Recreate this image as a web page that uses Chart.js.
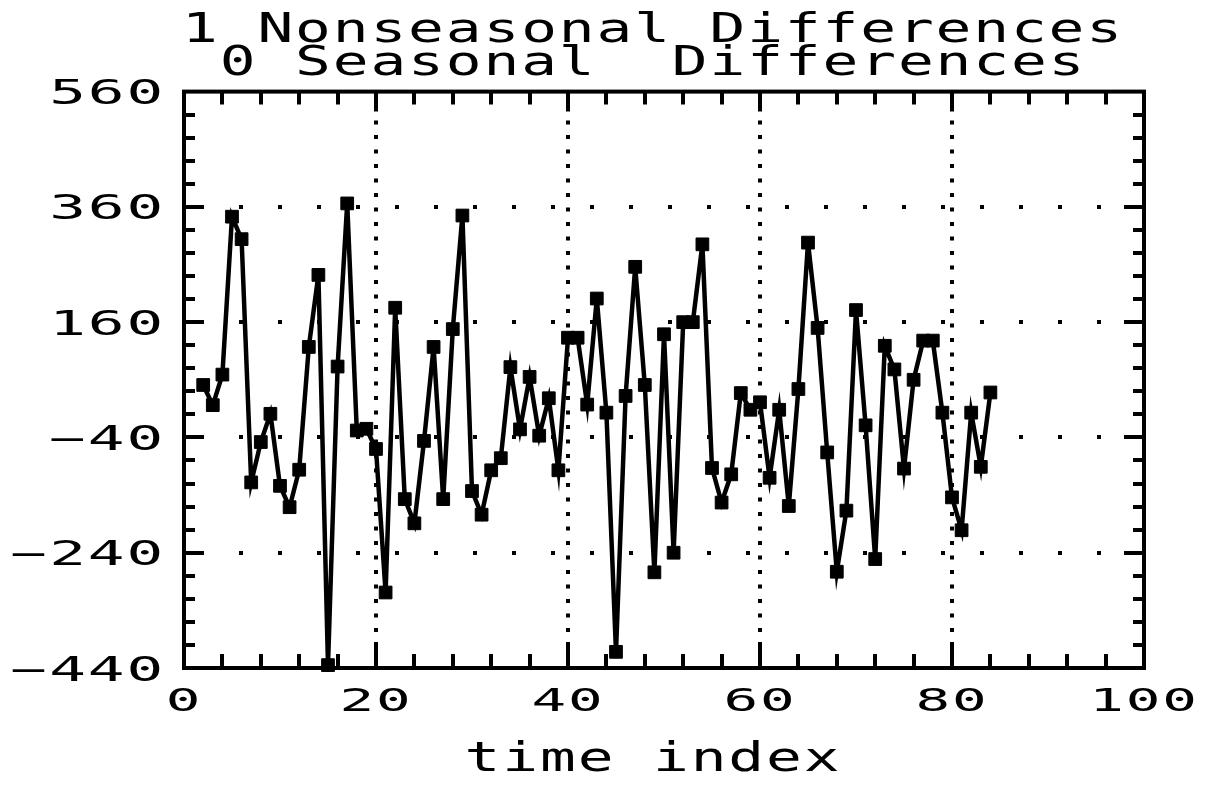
<!DOCTYPE html>
<html>
<head>
<meta charset="utf-8">
<script src="https://cdn.jsdelivr.net/npm/chart.js@4.4.1/dist/chart.umd.min.js"></script>
<style>
  html, body { margin: 0; padding: 0; background: #ffffff; }
  #c { display: block; }
</style>
</head>
<body>
<canvas id="c" width="1205" height="785"></canvas>
<script>
// Time index of each differenced observation
const timeIndex = [
   2,  3,  4,  5,  6,  7,  8,  9, 10, 11, 12, 13, 14, 15, 16, 17, 18, 19, 20, 21,
  22, 23, 24, 25, 26, 27, 28, 29, 30, 31, 32, 33, 34, 35, 36, 37, 38, 39, 40, 41,
  42, 43, 44, 45, 46, 47, 48, 49, 50, 51, 52, 53, 54, 55, 56, 57, 58, 59, 60, 61,
  62, 63, 64, 65, 66, 67, 68, 69, 70, 71, 72, 73, 74, 75, 76, 77, 78, 79, 80, 81,
  82, 83, 84
];

// First (nonseasonal) differences of the series
const diffValues = [
    51,   16,   69,  343,  304, -118,  -48,    1, -124, -161,
   -96,  117,  242, -435,   83,  366,  -28,  -25,  -60, -309,
   185, -147, -189,  -46,  117, -147,  148,  345, -133, -174,
   -97,  -76,   82,  -26,   65,  -37,   28,  -97,  133,  133,
    17,  201,    3, -412,   32,  256,   51, -274,  139, -240,
   160,  160,  295,  -93, -153, -104,   37,    8,   21, -110,
     8, -159,   44,  298,  150,  -66, -273, -167,  181,  -19,
  -251,  119,   78,  -94,   60,  128,  128,    3, -144, -201,
     3,  -91,   38
];

// Labelled tick values
const xMajorTicks = [0, 20, 40, 60, 80, 100];
const yMajorTicks = [-440, -240, -40, 160, 360, 560];

const titleLines = ['1 Nonseasonal Differences', '0 Seasonal  Differences'];
const xAxisTitle = 'time index';

const FONT = '"DejaVu Sans Mono", "Liberation Mono", monospace';
const SIZE_TITLE = 41, SIZE_YTICK = 33, SIZE_XTICK = 32;

// Wide plotter lettering: horizontal stretch, letter spacing and nudge per font size
const textStretch = {
  [SIZE_TITLE]: { k: 1.45, s: 1.3, dx: -11, dy: 0 },
  [SIZE_YTICK]: { k: 1.85, s: 1, dx: 0, dy: 4 },
  [SIZE_XTICK]: { k: 1.8, s: 1, dx: 0, dy: 1 }
};

const fmt = v => (v < 0 ? '\u2212' + Math.abs(v) : String(v));

const stretchedText = {
  id: 'stretchedText',
  beforeDraw(chart) {
    const ctx = chart.ctx;
    if (ctx.__stretchPatched) return;
    const fill = ctx.fillText;
    ctx.fillText = function (text, x, y, maxWidth) {
      const m = /(\d+(?:\.\d+)?)px/.exec(this.font);
      const st = m && textStretch[Math.round(parseFloat(m[1]))];
      if (!st) {
        return maxWidth === undefined ? fill.call(this, text, x, y) : fill.call(this, text, x, y, maxWidth);
      }
      this.save();
      this.translate(st.dx, st.dy);
      this.scale(st.k, 1);
      this.letterSpacing = st.s + 'px';
      fill.call(this, text, x / st.k, y);
      this.restore();
    };
    ctx.__stretchPatched = true;
  }
};

// Closed frame with inward tick marks on all four sides
const frameTicks = {
  id: 'frameTicks',
  afterDatasetsDraw(chart) {
    const { ctx, chartArea: a, scales: { x, y } } = chart;
    ctx.save();
    ctx.strokeStyle = '#000';
    ctx.lineWidth = 4;
    ctx.lineCap = 'butt';
    ctx.beginPath();
    x.ticks.forEach(t => {
      if (t.value <= x.min || t.value >= x.max) return;
      const px = Math.round(x.getPixelForValue(t.value));
      const major = xMajorTicks.includes(t.value);
      ctx.moveTo(px, a.bottom);
      ctx.lineTo(px, a.bottom - (major ? 26 : 14));
      ctx.moveTo(px, a.top);
      ctx.lineTo(px, a.top + (major ? 20 : 13));
    });
    y.ticks.forEach(t => {
      if (t.value <= y.min || t.value >= y.max) return;
      const py = Math.round(y.getPixelForValue(t.value));
      const major = yMajorTicks.includes(t.value);
      ctx.moveTo(a.left, py);
      ctx.lineTo(a.left + (major ? 20 : 11), py);
      ctx.moveTo(a.right, py);
      ctx.lineTo(a.right - (major ? 20 : 11), py);
    });
    ctx.stroke();
    ctx.strokeRect(a.left, a.top, a.right - a.left, a.bottom - a.top);
    ctx.restore();
  }
};

new Chart(document.getElementById('c'), {
  type: 'line',
  data: {
    datasets: [{
      data: timeIndex.map((t, i) => ({ x: t, y: diffValues[i] })),
      borderColor: '#000',
      backgroundColor: '#000',
      borderWidth: 4.5,
      tension: 0,
      pointStyle: 'rect',
      pointRadius: 9,
      pointBorderWidth: 1,
      pointBackgroundColor: '#000',
      clip: false
    }]
  },
  options: {
    responsive: false,
    animation: false,
    devicePixelRatio: 1,
    layout: { padding: { top: 0, right: 61, bottom: 0, left: 0 } },
    plugins: {
      legend: { display: false },
      tooltip: { enabled: false },
      title: {
        display: true,
        fullSize: false,
        text: titleLines,
        color: '#000',
        font: { family: FONT, size: SIZE_TITLE, weight: 'normal', lineHeight: 0.8 },
        padding: { top: 15, bottom: 11 }
      }
    },
    scales: {
      x: {
        type: 'linear',
        min: 0,
        max: 100,
        afterFit: s => { s.height = 117; },
        ticks: {
          stepSize: 4,
          autoSkip: false,
          maxRotation: 0,
          padding: 14,
          color: '#000',
          font: { family: FONT, size: SIZE_XTICK, weight: 'normal' },
          callback: v => (xMajorTicks.includes(v) ? String(v) : '')
        },
        grid: {
          drawTicks: false,
          lineWidth: 4,
          color: c => (c.tick && xMajorTicks.includes(c.tick.value) && c.tick.value > 0 && c.tick.value < 100) ? '#000' : 'rgba(0,0,0,0)'
        },
        border: { display: true, color: '#000', width: 4, dash: [4, 10.5] },
        title: {
          display: true,
          text: xAxisTitle,
          color: '#000',
          font: { family: FONT, size: SIZE_TITLE, weight: 'normal' },
          padding: { top: 0, bottom: 0 }
        }
      },
      y: {
        type: 'linear',
        min: -440,
        max: 560,
        afterFit: s => { s.width = 184; },
        ticks: {
          stepSize: 40,
          autoSkip: false,
          padding: 19,
          color: '#000',
          font: { family: FONT, size: SIZE_YTICK, weight: 'normal' },
          callback: v => (yMajorTicks.includes(v) ? fmt(v) : '')
        },
        grid: {
          drawTicks: false,
          lineWidth: 4,
          color: c => (c.tick && yMajorTicks.includes(c.tick.value) && c.tick.value > -440 && c.tick.value < 560) ? '#000' : 'rgba(0,0,0,0)'
        },
        border: { display: true, color: '#000', width: 4, dash: [4, 35], dashOffset: 25 }
      }
    }
  },
  plugins: [stretchedText, frameTicks]
});
</script>
</body>
</html>
